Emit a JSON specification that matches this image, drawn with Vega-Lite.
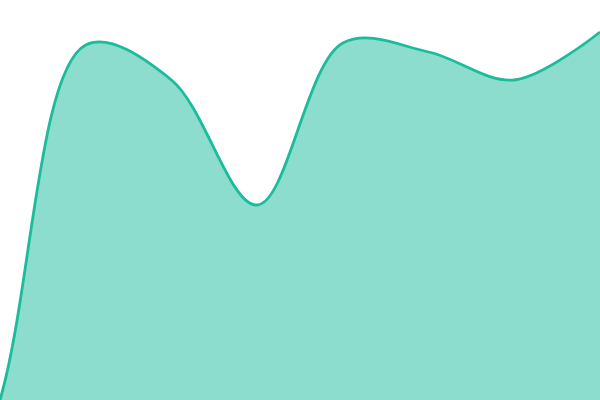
{
  "$schema": "https://vega.github.io/schema/vega-lite/v6.json",
  "autosize": {"type": "fit", "contains": "padding"},
  "width": 600,
  "height": 400,
  "padding": 0,
  "config": {"view": {"stroke": null}},
  "data": {"values": [
    {"i": -1, "v": -250},
    {"i": 0, "v": 0},
    {"i": 1, "v": 355},
    {"i": 2, "v": 320},
    {"i": 3, "v": 195},
    {"i": 4, "v": 357},
    {"i": 5, "v": 348},
    {"i": 6, "v": 320},
    {"i": 7, "v": 368}
  ]},
  "encoding": {
    "x": {"field": "i", "type": "quantitative", "axis": null, "scale": {"domain": [0, 7], "nice": false, "zero": false}},
    "y": {"field": "v", "type": "quantitative", "axis": null, "scale": {"domain": [0, 400], "nice": false}}
  },
  "layer": [
    {"mark": {"type": "area", "interpolate": "catmull-rom", "color": "#1abc9c", "opacity": 0.5, "clip": true}},
    {"mark": {"type": "line", "interpolate": "catmull-rom", "color": "#1abc9c", "strokeWidth": 2.8, "clip": true}}
  ]
}
